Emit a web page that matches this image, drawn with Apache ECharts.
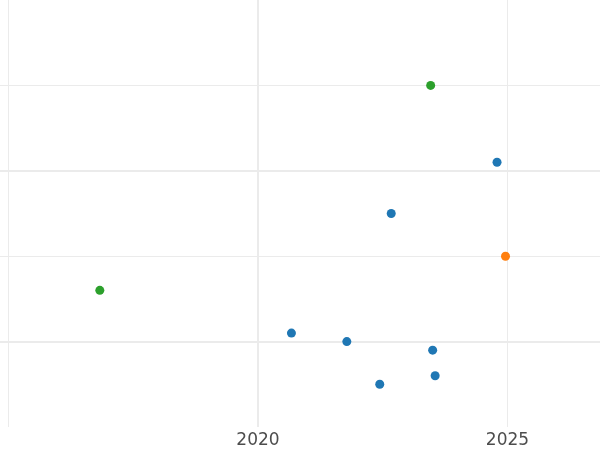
<!DOCTYPE html>
<html>
<head>
<meta charset="utf-8">
<script src="https://cdn.jsdelivr.net/npm/echarts@6/dist/echarts.min.js"></script>
<style>
  html, body { margin: 0; padding: 0; background: #fff; }
  #chart { width: 600px; height: 450px; }
</style>
</head>
<body>
<div id="chart"></div>
<script>
// points, split by colour group: [year, value]
const blueX = [2024.79, 2022.67, 2020.67, 2021.78, 2023.50, 2023.55, 2022.44]
const blueY = [3.10, 2.50, 1.10, 1.00, 0.90, 0.60, 0.50]
const greenX = [2023.46, 2016.83]
const greenY = [4.00, 1.60]
const orangeX = [2024.96]
const orangeY = [2.00]

// axis labels and heavier grid lines
const xTickLabels = [2020, 2025]
const majorXLines = [2020]
const majorYLines = [1, 3]

const gridColor = '#ebebeb'

function pairs(xs, ys) {
  return xs.map((x, i) => [x, ys[i]])
}

const chart = echarts.init(document.getElementById('chart'))

const option = {
  backgroundColor: '#fff',
  animation: false,
  grid: {
    left: -241,
    right: -157,
    top: 0,
    bottom: 23,
    outerBoundsMode: 'none'
  },
  xAxis: {
    type: 'value',
    min: 2010,
    max: 2030,
    interval: 5,
    axisLine: { show: false },
    axisTick: { show: false },
    axisLabel: {
      margin: 5,
      fontFamily: 'DejaVu Sans',
      fontSize: 17,
      color: '#4d4d4d',
      formatter: (v) => (xTickLabels.includes(v) ? String(v) : '')
    },
    splitLine: {
      show: true,
      lineStyle: { color: gridColor, width: 1 }
    }
  },
  yAxis: {
    type: 'value',
    min: 0,
    max: 5,
    interval: 1,
    axisLine: { show: false },
    axisTick: { show: false },
    axisLabel: { show: false },
    splitLine: {
      show: true,
      showMinLine: false,
      showMaxLine: false,
      lineStyle: { color: gridColor, width: 1 }
    }
  },
  series: [
    {
      type: 'scatter',
      data: [],
      z: 1,
      markLine: {
        silent: true,
        symbol: 'none',
        z: 1,
        label: { show: false },
        lineStyle: { color: gridColor, width: 2, type: 'solid' },
        data: [
          ...majorYLines.map((v) => ({ yAxis: v })),
          ...majorXLines.map((v) => ({ xAxis: v }))
        ]
      }
    },
    {
      type: 'scatter',
      symbolSize: 9,
      itemStyle: { color: '#1f77b4', opacity: 1 },
      data: pairs(blueX, blueY)
    },
    {
      type: 'scatter',
      symbolSize: 9,
      itemStyle: { color: '#2ca02c', opacity: 1 },
      data: pairs(greenX, greenY)
    },
    {
      type: 'scatter',
      symbolSize: 9,
      itemStyle: { color: '#ff7f0e', opacity: 1 },
      data: pairs(orangeX, orangeY)
    }
  ]
}

chart.setOption(option)
</script>
</body>
</html>
